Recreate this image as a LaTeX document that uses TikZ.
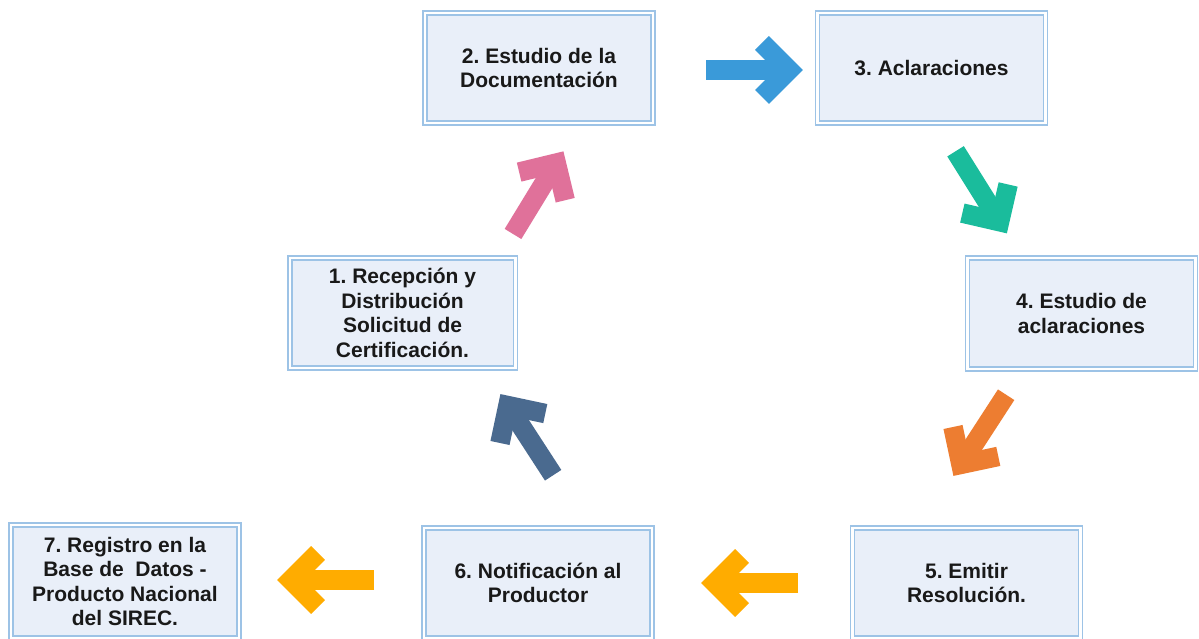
\documentclass[tikz,border=0pt]{standalone}
\usepackage{fontspec}
\setmainfont{Liberation Sans}
\frenchspacing
\definecolor{fondo}{HTML}{E9EFF9}
\definecolor{borde}{HTML}{9DC3E6}
\definecolor{azul}{HTML}{3A9AD9}
\definecolor{verde}{HTML}{1ABC9C}
\definecolor{naranja}{HTML}{ED7D31}
\definecolor{amarillo}{HTML}{FFAC00}
\definecolor{pizarra}{HTML}{4A6A8F}
\definecolor{rosa}{HTML}{E0719A}
\begin{document}
\begin{tikzpicture}[x=1pt, y=1pt,
    caja/.style={draw=borde, double=white, double distance=2.5pt, line width=1.5pt,
        fill=fondo, inner sep=0pt, outer sep=0pt, align=center, text=black!90,
        font=\fontsize{21}{24.5}\selectfont\bfseries,
        minimum width=228, minimum height=110}]
\clip (0,0) rectangle (1199,639);
\fill[white] (0,0) rectangle (1199,639);
% cajas del proceso
\node[caja] (p2) at (539,571) {2. Estudio de la\\Documentación};
\node[caja] (p3) at (931.5,571) {3. Aclaraciones};
\node[caja, minimum height=111] (p4) at (1081.5,325.5) {4. Estudio de\\aclaraciones};
\node[caja, minimum width=225.5] (p1) at (402.5,326) {1. Recepción y\\Distribución\\Solicitud de\\Certificación.};
\node[caja] (p5) at (966.5,56) {5. Emitir\\Resolución.};
\node[caja] (p6) at (538,56) {6. Notificación al\\Productor};
\node[caja, minimum height=113] (p7) at (125,57.5) {7. Registro en la\\Base de~ Datos -\\Producto Nacional\\del SIREC.};
% flechas
\foreach \c/\px/\py/\a in {azul/754/569/0, verde/981/447/-58, naranja/980/204/-123,
    amarillo/750/56/180, amarillo/326/59/180, pizarra/527/204/123, rosa/538/446/58.6}
{
    \begin{scope}[shift={(\px,\py)}, rotate=\a]
    \draw[\c, line width=19.5pt] (-48,0) -- (35,0);
    \draw[\c, line width=19.5pt, line join=miter] (8,27) -- (35,0) -- (8,-27);
    \end{scope}
}
\end{tikzpicture}
\end{document}
